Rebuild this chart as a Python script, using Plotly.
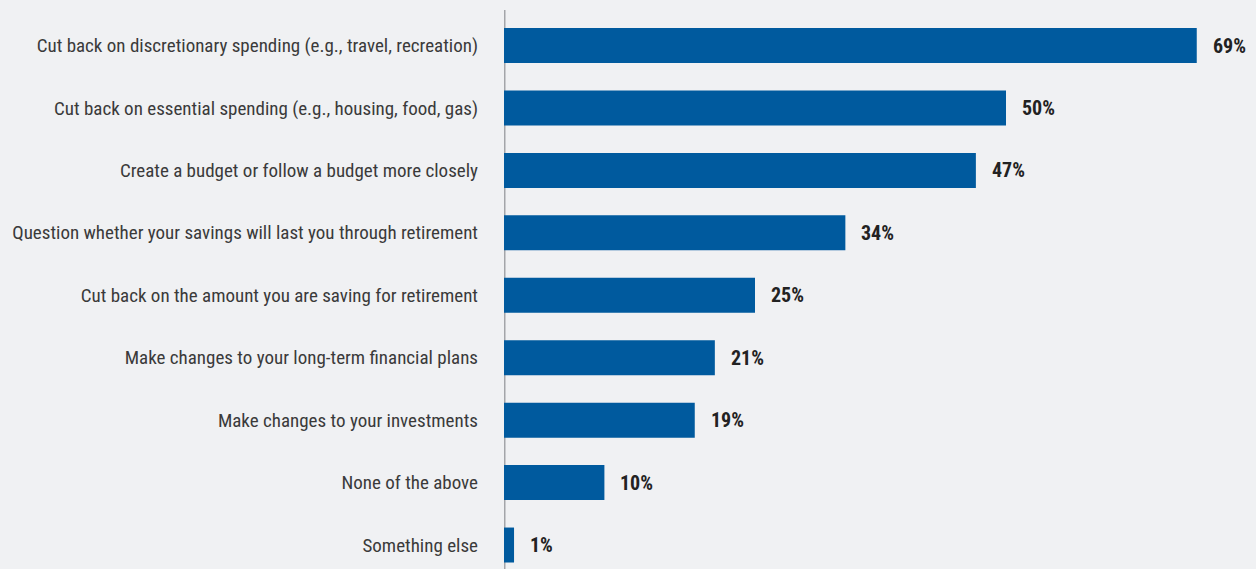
import plotly.graph_objects as go

categories = [
    "Cut back on discretionary spending (e.g., travel, recreation)",
    "Cut back on essential spending (e.g., housing, food, gas)",
    "Create a budget or follow a budget more closely",
    "Question whether your savings will last you through retirement",
    "Cut back on the amount you are saving for retirement",
    "Make changes to your long-term financial plans",
    "Make changes to your investments",
    "None of the above",
    "Something else",
]
values = [69, 50, 47, 34, 25, 21, 19, 10, 1]
value_labels = [f"{v}%" for v in values]

BAR_COLOR = "#005a9e"
BG = "#f0f1f3"
FONT = "Roboto Condensed, Liberation Sans Narrow, sans-serif"

fig = go.Figure()
fig.add_trace(go.Bar(
    x=values,
    y=categories,
    orientation="h",
    marker=dict(color=BAR_COLOR, line=dict(width=0)),
    width=0.56,
    hoverinfo="skip",
))

# percentage labels to the right of each bar
for cat, v, lab in zip(categories, values, value_labels):
    fig.add_annotation(
        x=v, y=cat, text=f"<b>{lab}</b>", showarrow=False,
        xanchor="left", xshift=14, yshift=0,
        font=dict(family=FONT, size=20, color="#222222"),
    )

# vertical baseline
fig.add_shape(
    type="line", xref="x", yref="paper",
    x0=0, x1=0, y0=0, y1=1 - 10 / 569,
    line=dict(color="#a3a5a9", width=3), layer="below",
)

fig.update_layout(
    width=1256, height=569,
    margin=dict(l=504, r=0, t=0, b=0),
    paper_bgcolor=BG, plot_bgcolor=BG,
    showlegend=False,
    bargap=0.44,
    xaxis=dict(range=[0, 74.9], visible=False, fixedrange=True, automargin=False),
    yaxis=dict(
        categoryorder="array", categoryarray=categories,
        range=[8.384, -0.729],
        showgrid=False, zeroline=False, showline=False, ticks="",
        ticklabelstandoff=25, automargin=False,
        tickfont=dict(family=FONT, size=19, color="#3a3a3a"),
    ),
)

fig.write_html("out.html")
